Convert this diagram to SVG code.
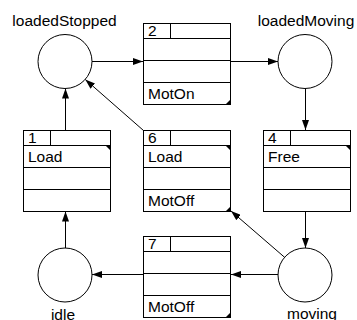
<svg xmlns="http://www.w3.org/2000/svg" width="357" height="320" viewBox="0 0 357 320">
  <defs>
    <marker id="arrow" markerUnits="userSpaceOnUse" markerWidth="10" markerHeight="7" refX="10" refY="3.5" orient="auto">
      <path d="M0,0 L10,3.5 L0,7 z" fill="#000"/>
    </marker>
    <style>
      text { font-family: "Liberation Sans", Arial, sans-serif; font-size: 15.5px; fill: #000; }
      .place { fill: #fff; stroke: #000; stroke-width: 1; }
      .box { fill: #fff; stroke: #000; stroke-width: 1; }
      .rule { stroke: #000; stroke-width: 1; fill: none; }
      .edge { stroke: #000; stroke-width: 1; fill: none; marker-end: url(#arrow); }
      .tab { fill: #000; }
      .lbl { text-anchor: middle; }
    </style>
  </defs>

  <!-- connectors -->
  <g id="edges">
    <line class="edge" x1="92" y1="61.5" x2="143" y2="61.5"/>
    <line class="edge" x1="231" y1="61.5" x2="278" y2="61.5"/>
    <line class="edge" x1="305.5" y1="88.5" x2="305.5" y2="130"/>
    <line class="edge" x1="305.5" y1="211.5" x2="305.5" y2="248"/>
    <line class="edge" x1="278" y1="274.5" x2="231" y2="274.5"/>
    <line class="edge" x1="143" y1="274.5" x2="92" y2="274.5"/>
    <line class="edge" x1="65.5" y1="248" x2="65.5" y2="211.5"/>
    <line class="edge" x1="65.5" y1="130" x2="65.5" y2="88.5"/>
    <line class="edge" x1="143.5" y1="130.5" x2="85.3" y2="79.5"/>
    <line class="edge" x1="284.6" y1="257.3" x2="231" y2="211"/>
  </g>

  <!-- places -->
  <g id="loadedStopped">
    <circle class="place" cx="65" cy="61.5" r="27"/>
    <text class="lbl" x="64.5" y="25.5">loadedStopped</text>
  </g>
  <g id="loadedMoving">
    <circle class="place" cx="305" cy="61.5" r="27"/>
    <text class="lbl" x="306" y="26">loadedMoving</text>
  </g>
  <g id="idle">
    <circle class="place" cx="65" cy="275" r="27"/>
    <text class="lbl" x="63" y="319.5">idle</text>
  </g>
  <g id="moving">
    <circle class="place" cx="305" cy="275" r="27"/>
    <text class="lbl" x="312" y="318.5">moving</text>
  </g>

  <!-- transitions -->
  <g id="t2">
    <rect class="box" x="143.5" y="23.5" width="87" height="81"/>
    <path class="rule" d="M143.5,38.5 H230.5 M170.5,23.5 V38.5 M143.5,60.5 H230.5 M143.5,82.5 H230.5"/>
    <text x="148" y="36">2</text>
    <text x="148" y="98.5">MotOn</text>
    <path class="tab" d="M231,104 L226,104 L231,99 z"/>
  </g>
  <g id="t1">
    <rect class="box" x="23.5" y="130.5" width="87" height="81"/>
    <path class="rule" d="M23.5,145.5 H110.5 M50.5,130.5 V145.5 M23.5,167.5 H110.5 M23.5,189.5 H110.5"/>
    <text x="28" y="143">1</text>
    <text x="28" y="161.5">Load</text>
    <path class="tab" d="M111,146 L106,146 L111,151 z"/>
  </g>
  <g id="t6">
    <rect class="box" x="143.5" y="130.5" width="87" height="81"/>
    <path class="rule" d="M143.5,145.5 H230.5 M170.5,130.5 V145.5 M143.5,167.5 H230.5 M143.5,189.5 H230.5"/>
    <text x="148" y="143">6</text>
    <text x="148" y="161.5">Load</text>
    <text x="148" y="205.5">MotOff</text>
    <path class="tab" d="M231,146 L226,146 L231,151 z"/>
    <path class="tab" d="M231,211 L226,211 L231,206 z"/>
  </g>
  <g id="t4">
    <rect class="box" x="263.5" y="130.5" width="87" height="81"/>
    <path class="rule" d="M263.5,145.5 H350.5 M290.5,130.5 V145.5 M263.5,167.5 H350.5 M263.5,189.5 H350.5"/>
    <text x="268" y="143">4</text>
    <text x="268" y="161.5">Free</text>
    <path class="tab" d="M351,146 L346,146 L351,151 z"/>
  </g>
  <g id="t7">
    <rect class="box" x="143.5" y="236.5" width="87" height="81"/>
    <path class="rule" d="M143.5,251.5 H230.5 M170.5,236.5 V251.5 M143.5,273.5 H230.5 M143.5,295.5 H230.5"/>
    <text x="148" y="249">7</text>
    <text x="148" y="311.5">MotOff</text>
    <path class="tab" d="M231,317 L226,317 L231,312 z"/>
  </g>
</svg>
